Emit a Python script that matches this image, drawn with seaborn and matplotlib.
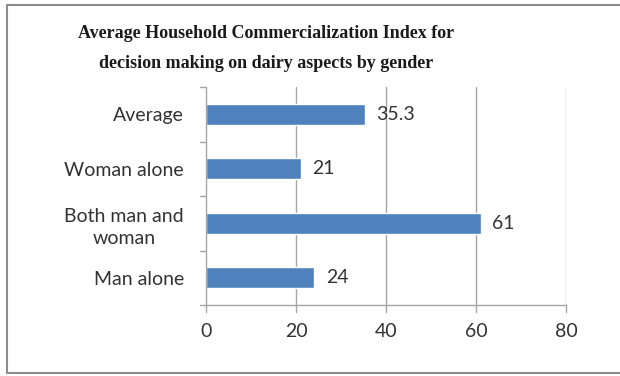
import matplotlib
matplotlib.use("Agg")
import matplotlib.pyplot as plt
from matplotlib.lines import Line2D
import seaborn as sns
import pandas as pd

categories = ["Average", "Woman alone", "Both man and\nwoman", "Man alone"]
values = [35.3, 21, 61, 24]
value_labels = ["35.3", "21", "61", "24"]
x_ticks = [0, 20, 40, 60, 80]

df = pd.DataFrame({"group": categories, "index": values})

sns.set_theme(style="white")
plt.rcParams["font.family"] = ["Lato", "DejaVu Sans"]

fig = plt.figure(figsize=(6.2, 3.76), dpi=100)
ax = fig.add_axes([206 / 620, 1 - 305 / 376, 360 / 620, 218 / 376])

sns.barplot(data=df, y="group", x="index", orient="h", color="#4F81BD",
            saturation=1, width=0.38, ax=ax, order=categories)

label_color = "#333333"
fs = 14
ax.set_xlim(0, 80)
ax.set_ylim(3.5, -0.5)
ax.set_xticks(x_ticks)
ax.set_xticklabels([str(t) for t in x_ticks], fontsize=fs, color=label_color)
ax.set_yticks(range(len(categories)))
ax.set_yticklabels(categories, fontsize=fs, color=label_color, linespacing=1.35,
                   multialignment="center")
ax.set_xlabel("")
ax.set_ylabel("")

# vertical gridlines
for t in x_ticks[1:]:
    ax.axvline(t, color="#A6A6A6", lw=1, zorder=0)

for side in ["top", "right"]:
    ax.spines[side].set_visible(False)
for side in ["left", "bottom"]:
    ax.spines[side].set_color("#A6A6A6")
    ax.spines[side].set_linewidth(1)

# tick marks between categories on the y axis, under each value on the x axis
ax.tick_params(axis="y", length=0, pad=16)
ax.tick_params(axis="x", length=0, pad=13)
for b in [-0.5, 0.5, 1.5, 2.5, 3.5]:
    ax.plot([-1.3, 0], [b, b], color="#A6A6A6", lw=1, clip_on=False)
for t in x_ticks:
    ax.plot([t, t], [3.5, 3.62], color="#A6A6A6", lw=1, clip_on=False)

for i, (v, lab) in enumerate(zip(values, value_labels)):
    ax.text(v + 2.6, i, lab, va="center", ha="left", fontsize=fs, color=label_color)

title_x = 266 / 620
fig.text(title_x, 1 - 34 / 376, "Average Household Commercialization Index for",
         ha="center", va="center", fontsize=13, fontweight="bold",
         family="Liberation Serif", color="#1a1a1a")
fig.text(title_x, 1 - 63 / 376, "decision making on dairy aspects by gender",
         ha="center", va="center", fontsize=13, fontweight="bold",
         family="Liberation Serif", color="#1a1a1a")

# outer frame, open past the right edge
frame = Line2D([630 / 620, 6.5 / 620, 6.5 / 620, 630 / 620],
               [1 - 4.5 / 376, 1 - 4.5 / 376, 1 - 373 / 376, 1 - 373 / 376],
               transform=fig.transFigure, color="#8C8C8C", lw=1.5)
fig.lines.append(frame)

fig.savefig("out.png", dpi=100, facecolor="white")
